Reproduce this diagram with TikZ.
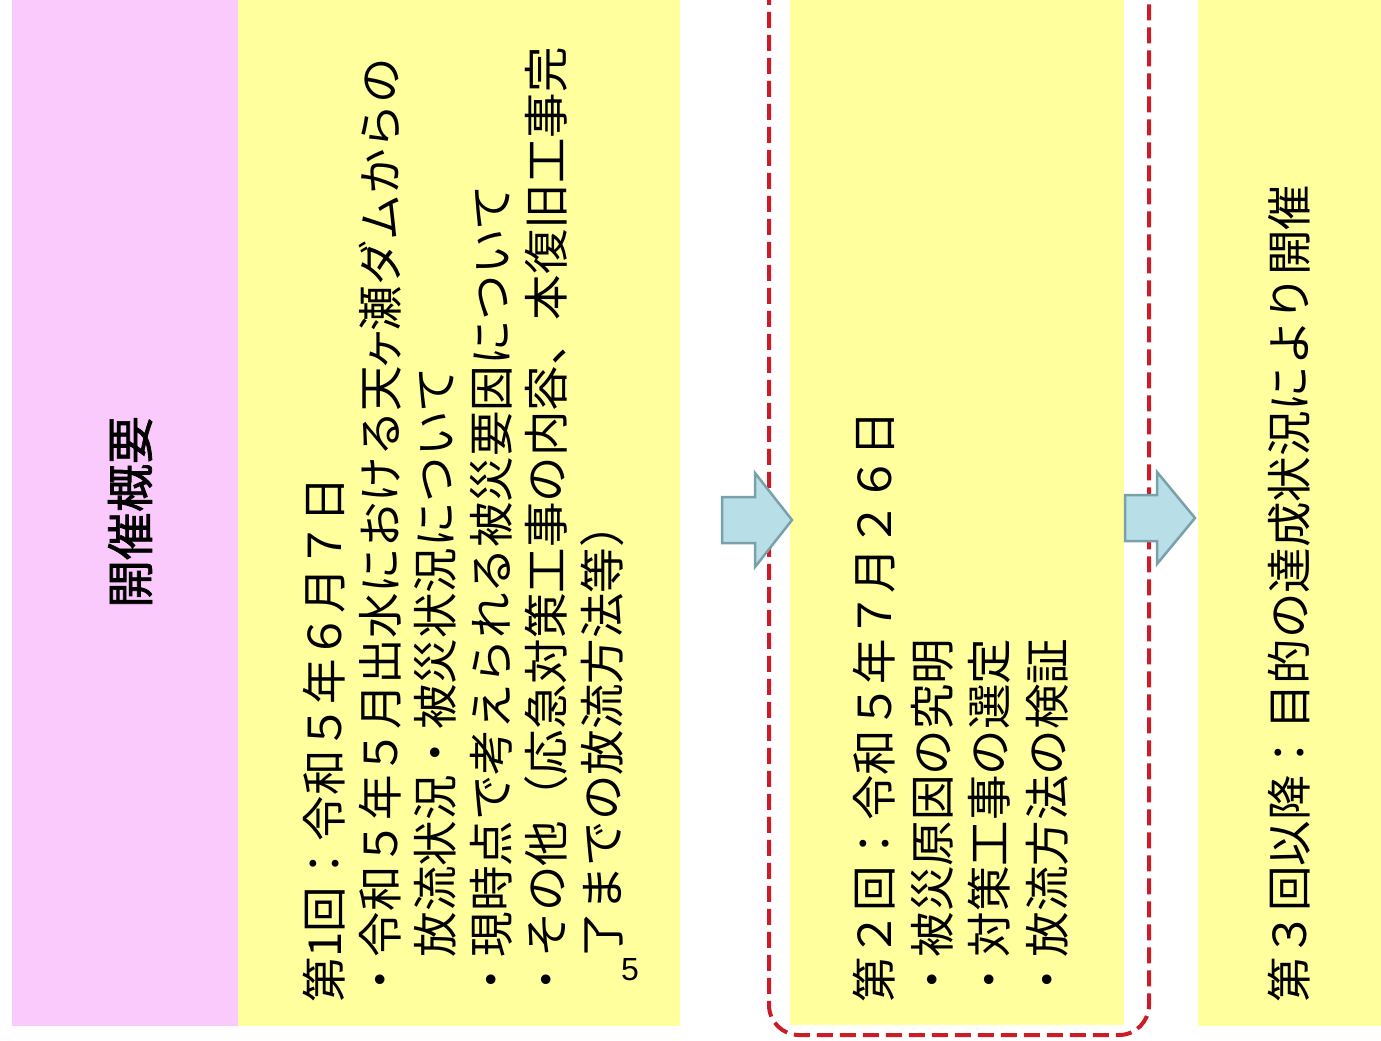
\documentclass[tikz,border=0pt]{standalone}
\usepackage{fontspec}
\setmainfont{Noto Sans CJK JP}[AutoFakeBold=1.5]
\newfontfamily\latinsans{Liberation Sans}
\definecolor{yellowbg}{RGB}{255,255,158}
\definecolor{pinkbg}{RGB}{249,202,251}
\definecolor{arrowfill}{RGB}{184,222,231}
\definecolor{arrowline}{RGB}{122,160,170}
\definecolor{dashred}{RGB}{204,28,40}
\begin{document}
\begin{tikzpicture}[x=1pt,y=-1pt,
  panel/.style={draw=none,inner sep=0pt,outer sep=0pt,anchor=north west},
  vtext/.style={rotate=90,anchor=north west,inner sep=0pt,align=left,
    font=\fontsize{45.5}{55.5}\selectfont},
  blockarrow/.style={fill=arrowfill,draw=arrowline,line width=2.5pt,line join=miter}]
\useasboundingbox (0,0) rectangle (1381,1041);
\fill[white] (0,0) rectangle (1381,1041);
\clip (0,0) rectangle (1381,1041);
% panels
\node[panel,fill=pinkbg,minimum width=226pt,minimum height=1026pt] (pink) at (12,0) {};
\node[panel,fill=yellowbg,minimum width=442pt,minimum height=1026pt] (y1) at (238,0) {};
\node[panel,fill=yellowbg,minimum width=334pt,minimum height=1025pt] (y2) at (790,0) {};
\node[panel,fill=yellowbg,minimum width=183pt,minimum height=1026pt] (y3) at (1198,0) {};
% dashed frame
\node[draw=dashred,line width=4pt,dash pattern=on 16pt off 7pt,rounded corners=30pt,
  inner sep=0pt,minimum width=380pt,minimum height=1100pt,anchor=south west] (frame) at (767,1037) {};
% texts
\node[rotate=90,font=\fontsize{48}{48}\selectfont\bfseries] (title) at (130,512) {開催概要};
\node[vtext] (t1) at (303,1003) {第1回：令和５年６月７日\\・令和５年５月出水における天\kern-0.12em ヶ\kern-0.12em 瀬ダムからの\\　放流状況・被災状況について\\・現時点で考えられる被災要因について\\・その他（応急対策工事の内容、本復旧工事完\\　了までの放流方法等）};
\node[vtext,font=\fontsize{45.5}{57.5}\selectfont] (t2) at (853,1003) {第２回：令和５年７月２６日\\・被災原因の究明\\・対策工事の選定\\・放流方法の検証};
\node[vtext] (t3) at (1268,1003) {第３回以降：目的の達成状況により開催};
\node[font=\latinsans\fontsize{32}{32}\selectfont,inner sep=0pt] (pg) at (630,970) {5};
% arrows
\draw[blockarrow] (722,497) -- (755,497) -- (755,473) -- (792,520) -- (755,567) -- (755,543) -- (722,543) -- cycle;
\draw[blockarrow] (1125,495) -- (1157,495) -- (1157,472) -- (1195,518) -- (1157,564) -- (1157,541) -- (1125,541) -- cycle;
\end{tikzpicture}
\end{document}
